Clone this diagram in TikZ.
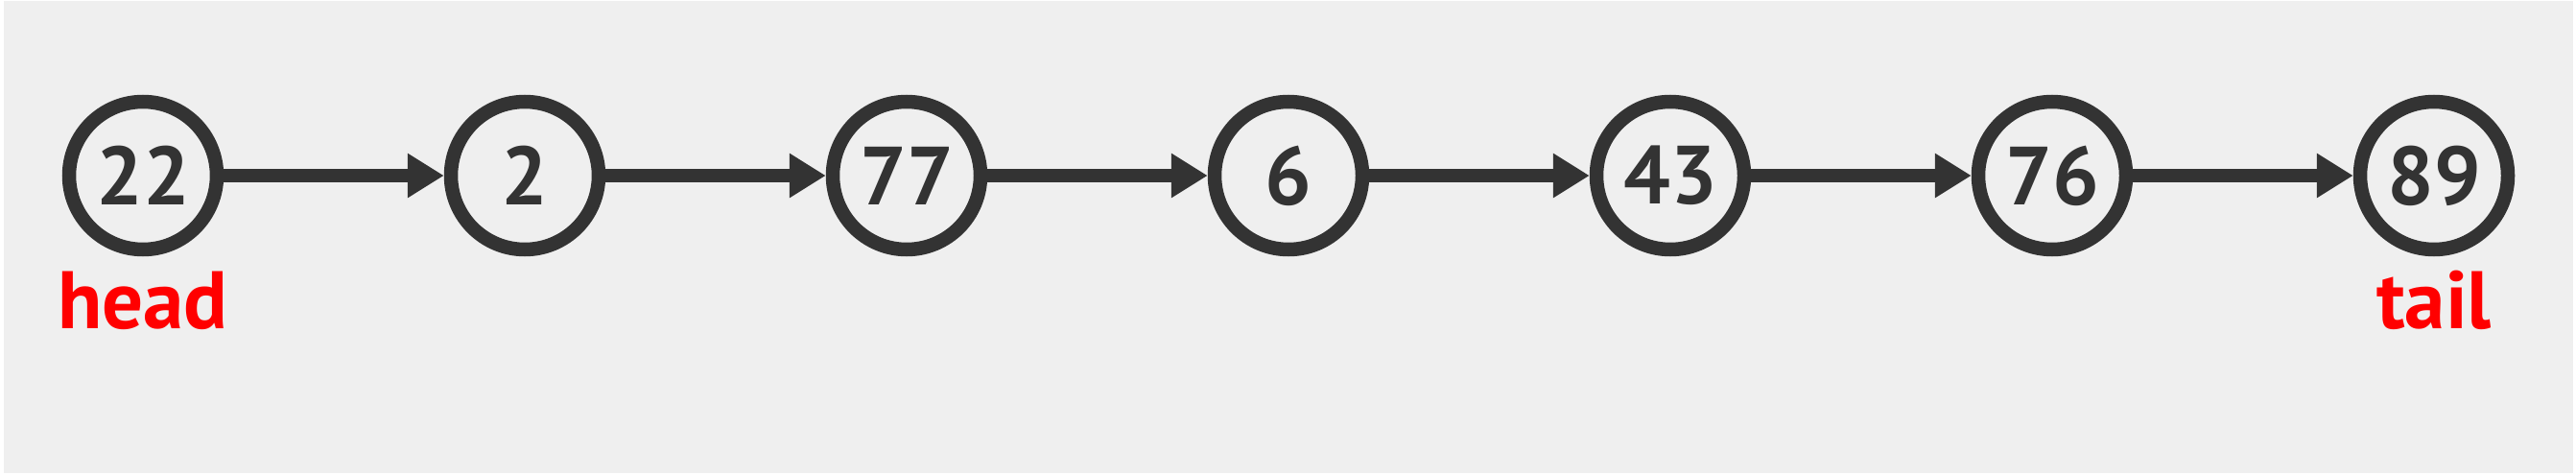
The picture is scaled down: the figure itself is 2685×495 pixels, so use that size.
\documentclass[tikz,border=0pt]{standalone}
\usepackage{fontspec}
\setmainfont[Numbers=Lining]{PT Sans}
\usetikzlibrary{arrows.meta}
\definecolor{bg}{HTML}{EFEFEF}
\definecolor{ink}{HTML}{333333}
\definecolor{lab}{HTML}{FF0000}
\tikzset{
  x=1pt, y=1pt,
  listnode/.style={circle, draw=ink, line width=14.5pt, inner sep=0pt,
    minimum size=154pt, text=ink, font=\fontsize{86}{86}\selectfont\bfseries},
  link/.style={draw=ink, line width=14.5pt,
    -{Triangle[length=38pt,width=44pt]}},
  ptrlabel/.style={text=lab, font=\fontsize{85}{85}\selectfont\bfseries,
    anchor=base, inner sep=0pt}
}
\begin{document}
\begin{tikzpicture}
\useasboundingbox (0,0) rectangle (2685,-495);
\fill[white] (0,0) rectangle (2685,-495);
\fill[bg] (4,-1) rectangle (2682,-493);
\node[listnode] (n1) at (149,-183) {22};
\node[listnode] (n2) at (547,-183) {2};
\node[listnode] (n3) at (945,-183) {77};
\node[listnode] (n4) at (1343,-183) {6};
\node[listnode] (n5) at (1741,-183) {43};
\node[listnode] (n6) at (2139,-183) {76};
\node[listnode] (n7) at (2537,-183) {89};
\draw[link] (n1) -- (n2);
\draw[link] (n2) -- (n3);
\draw[link] (n3) -- (n4);
\draw[link] (n4) -- (n5);
\draw[link] (n5) -- (n6);
\draw[link] (n6) -- (n7);
\node[ptrlabel] (head) at (149,-342) {head};
\node[ptrlabel] (tail) at (2537,-342) {tail};
\end{tikzpicture}
\end{document}
